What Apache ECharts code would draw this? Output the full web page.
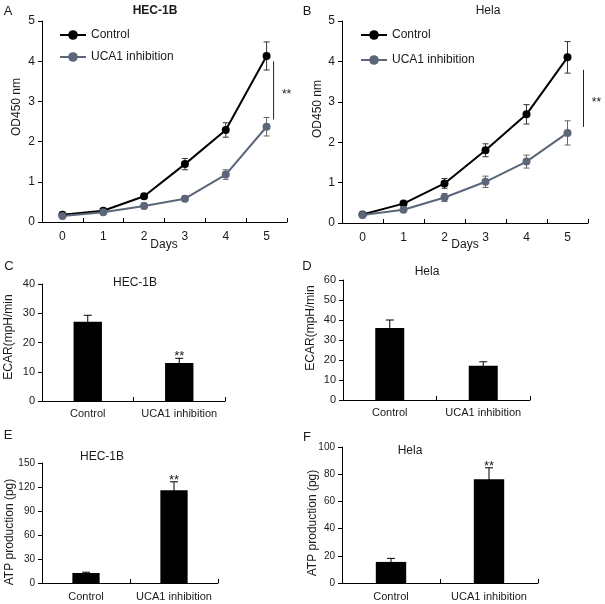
<!DOCTYPE html>
<html><head><meta charset="utf-8">
<script src="https://cdn.jsdelivr.net/npm/echarts@6/dist/echarts.min.js"></script>
<style>html,body{margin:0;padding:0;background:#fff}#c{width:605px;height:604px}</style>
</head><body><div id="c"></div>
<script>
// ---- Data ----
const days = ['0', '1', '2', '3', '4', '5'];
const hecControl = [0.18, 0.28, 0.64, 1.44, 2.29, 4.13];
const hecControlErr = [0.03, 0.04, 0.06, 0.14, 0.18, 0.35];
const hecUca1 = [0.15, 0.24, 0.40, 0.58, 1.18, 2.37];
const hecUca1Err = [0.03, 0.03, 0.07, 0.07, 0.12, 0.23];
const helaControl = [0.21, 0.48, 0.98, 1.80, 2.69, 4.10];
const helaControlErr = [0.03, 0.05, 0.12, 0.16, 0.24, 0.39];
const helaUca1 = [0.20, 0.33, 0.63, 1.02, 1.52, 2.23];
const helaUca1Err = [0.03, 0.04, 0.10, 0.14, 0.16, 0.30];
const hecSigRange = [4.0, 2.55];   // bracket span at day 5
const helaSigRange = [3.79, 2.38];

const groups = ['Control', 'UCA1 inhibition'];
const ecarHec = [27.1, 13.0];
const ecarHecErr = [2.2, 1.6];
const ecarHecStars = ['', '**'];
const ecarHela = [36.0, 17.1];
const ecarHelaErr = [4.0, 2.0];
const ecarHelaStars = ['', ''];
const atpHec = [12.5, 116.0];
const atpHecErr = [1.0, 10.5];
const atpHecStars = ['', '**'];
const atpHela = [15.5, 76.3];
const atpHelaErr = [2.6, 8.4];
const atpHelaStars = ['', '**'];

const lineYTicks = {min: 0, max: 5, interval: 1};
const ecarHecTicks = {min: 0, max: 40, interval: 10};
const ecarHelaTicks = {min: 0, max: 60, interval: 10};
const atpHecTicks = {min: 0, max: 150, interval: 30};
const atpHelaTicks = {min: 0, max: 100, interval: 20};

// ---- Chart ----
const FONT = '"Liberation Sans", Arial, sans-serif';
const TXT = '#1a1a1a';
const chart = echarts.init(document.getElementById('c'));

const grids = [
  {left: 42, top: 21, width: 245, height: 201},
  {left: 342, top: 21, width: 246, height: 202},
  {left: 42, top: 284, width: 183, height: 117},
  {left: 343, top: 280, width: 187, height: 120},
  {left: 42, top: 463, width: 176, height: 120},
  {left: 342, top: 447, width: 196, height: 136}
];

function xAx(i, data, fs, margin) {
  return {
    type: 'category', gridIndex: i, data: data, boundaryGap: true,
    axisLine: {show: true, lineStyle: {color: '#000', width: 1}},
    axisTick: {show: true, inside: true, length: 4, alignWithLabel: false, lineStyle: {color: '#000'}},
    axisLabel: {color: TXT, fontSize: fs, fontFamily: FONT, margin: margin, interval: 0},
    splitLine: {show: false}
  };
}
function yAx(i, t, fs) {
  return {
    type: 'value', gridIndex: i, min: t.min, max: t.max, interval: t.interval,
    axisLine: {show: true, lineStyle: {color: '#000', width: 1}},
    axisTick: {show: true, inside: false, length: 4, lineStyle: {color: '#000'}},
    axisLabel: {color: TXT, fontSize: fs, fontFamily: FONT, margin: 7},
    splitLine: {show: false}
  };
}

function errSeries(gi, vals, errs, color, half, stars) {
  return {
    type: 'custom', xAxisIndex: gi, yAxisIndex: gi, z: 3, silent: true,
    data: vals.map((v, k) => [k, v, errs[k], stars ? stars[k] : '']),
    renderItem: function (params, api) {
      const x = api.value(0), v = api.value(1), e = api.value(2);
      const top = api.coord([x, v + e]);
      const bot = api.coord([x, v - e]);
      const st = {stroke: color, lineWidth: 1};
      const children = [
        {type: 'line', shape: {x1: top[0], y1: top[1], x2: bot[0], y2: bot[1]}, style: st},
        {type: 'line', shape: {x1: top[0] - half, y1: top[1], x2: top[0] + half, y2: top[1]}, style: st},
        {type: 'line', shape: {x1: bot[0] - half, y1: bot[1], x2: bot[0] + half, y2: bot[1]}, style: st}
      ];
      const s = api.value(3);
      if (s) {
        children.push({type: 'text', x: top[0], y: top[1] + 5,
          style: {text: s, fill: TXT, font: '13px ' + FONT, align: 'center', verticalAlign: 'bottom'}});
      }
      return {type: 'group', children: children};
    }
  };
}

function sigSeries(gi, range, dx) {
  return {
    type: 'custom', xAxisIndex: gi, yAxisIndex: gi, silent: true, z: 3,
    data: [[5, range[0], range[1]]],
    renderItem: function (params, api) {
      const a = api.coord([api.value(0), api.value(1)]);
      const b = api.coord([api.value(0), api.value(2)]);
      const x = a[0] + dx;
      return {type: 'group', children: [
        {type: 'line', shape: {x1: x, y1: a[1], x2: x, y2: b[1]}, style: {stroke: '#222', lineWidth: 1}},
        {type: 'text', x: x + 13, y: (a[1] + b[1]) / 2 + 4,
          style: {text: '**', fill: TXT, font: '12px ' + FONT, align: 'center', verticalAlign: 'middle'}}
      ]};
    }
  };
}

function lineSeries(gi, name, data, color) {
  return {
    type: 'line', name: name, xAxisIndex: gi, yAxisIndex: gi, data: data,
    symbol: 'circle', symbolSize: 8, z: 4,
    lineStyle: {color: color, width: 2}, itemStyle: {color: color}
  };
}

function barSeries(gi, data) {
  return {
    type: 'bar', xAxisIndex: gi, yAxisIndex: gi, data: data, barWidth: '31%',
    itemStyle: {color: '#000'}
  };
}

const GREY = '#5b6679';

function txt(x, y, s, size, opts) {
  opts = opts || {};
  return {
    type: 'text', x: x, y: y, rotation: opts.rot || 0,
    style: {text: s, fill: TXT, font: (opts.bold ? 'bold ' : '') + size + 'px ' + FONT,
      align: opts.align || 'center', verticalAlign: 'middle'}
  };
}

const option = {
  animation: false,
  backgroundColor: '#fff',
  grid: grids,
  xAxis: [
    xAx(0, days, 12, 9), xAx(1, days, 12, 9),
    xAx(2, groups, 11, 7), xAx(3, groups, 11, 7),
    xAx(4, groups, 11, 8), xAx(5, groups, 11, 8)
  ],
  yAxis: [
    yAx(0, lineYTicks, 12), yAx(1, lineYTicks, 12),
    yAx(2, ecarHecTicks, 11), yAx(3, ecarHelaTicks, 11),
    yAx(4, atpHecTicks, 10), yAx(5, atpHelaTicks, 10)
  ],
  legend: [
    {left: 54, top: 24, orient: 'vertical', itemGap: 10, itemWidth: 26, itemHeight: 12,
      data: ['Control', 'UCA1 inhibition'], selectedMode: false,
      textStyle: {color: TXT, fontSize: 12, fontFamily: FONT}},
    {left: 355, top: 24, orient: 'vertical', itemGap: 13, itemWidth: 26, itemHeight: 12,
      data: ['Control', 'UCA1 inhibition'], selectedMode: false,
      textStyle: {color: TXT, fontSize: 12, fontFamily: FONT}}
  ],
  series: [
    errSeries(0, hecControl, hecControlErr, '#333', 3),
    errSeries(0, hecUca1, hecUca1Err, '#666', 3),
    lineSeries(0, 'Control', hecControl, '#000'),
    lineSeries(0, 'UCA1 inhibition', hecUca1, GREY),
    sigSeries(0, hecSigRange, 7),
    errSeries(1, helaControl, helaControlErr, '#333', 3),
    errSeries(1, helaUca1, helaUca1Err, '#666', 3),
    lineSeries(1, 'Control', helaControl, '#000'),
    lineSeries(1, 'UCA1 inhibition', helaUca1, GREY),
    sigSeries(1, helaSigRange, 16),
    barSeries(2, ecarHec), errSeries(2, ecarHec, ecarHecErr, '#000', 4, ecarHecStars),
    barSeries(3, ecarHela), errSeries(3, ecarHela, ecarHelaErr, '#000', 4, ecarHelaStars),
    barSeries(4, atpHec), errSeries(4, atpHec, atpHecErr, '#000', 4, atpHecStars),
    barSeries(5, atpHela), errSeries(5, atpHela, atpHelaErr, '#000', 4, atpHelaStars)
  ],
  graphic: [
    txt(8, 11, 'A', 13), txt(307, 11, 'B', 13),
    txt(9, 266, 'C', 13), txt(307, 266, 'D', 13),
    txt(8, 435, 'E', 13), txt(307, 437, 'F', 13),
    txt(155, 11, 'HEC-1B', 12, {bold: true}),
    txt(488, 11, 'Hela', 12),
    txt(135, 283, 'HEC-1B', 12),
    txt(427, 272, 'Hela', 12),
    txt(102, 457, 'HEC-1B', 12),
    txt(410, 451, 'Hela', 12),
    txt(17, 107, 'OD450 nm', 12, {rot: Math.PI / 2}),
    txt(318, 109, 'OD450 nm', 12, {rot: Math.PI / 2}),
    txt(164, 245, 'Days', 12),
    txt(465, 245, 'Days', 12),
    txt(9, 337, 'ECAR(mpH/min', 12, {rot: Math.PI / 2}),
    txt(311, 328, 'ECAR(mpH/min', 12, {rot: Math.PI / 2}),
    txt(10, 532, 'ATP production (pg)', 12, {rot: Math.PI / 2}),
    txt(313, 523, 'ATP production (pg)', 12, {rot: Math.PI / 2})
  ]
};
chart.setOption(option);
</script>
</body></html>
